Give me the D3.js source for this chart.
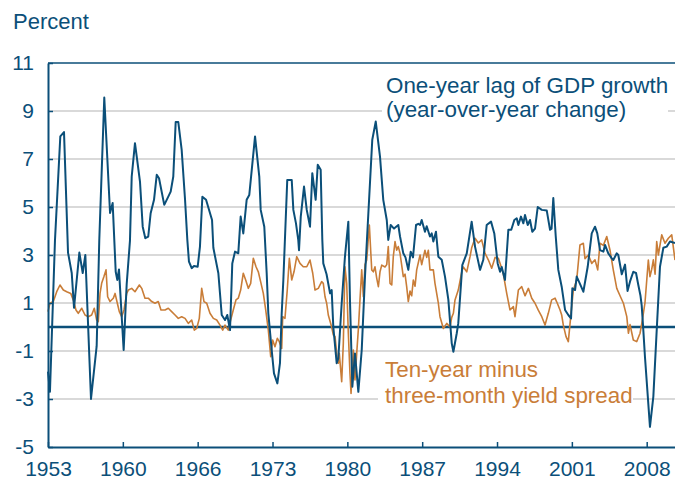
<!DOCTYPE html>
<html>
<head>
<meta charset="utf-8">
<script src="https://cdn.jsdelivr.net/npm/d3@7"></script>
<style>
  body { margin: 0; background: #fff; }
  svg { display: block; font-family: "Liberation Sans", Arial, sans-serif; }
</style>
</head>
<body>
<svg width="675" height="479"></svg>
<script>
// GDP growth, lagged one year: [decimal year, percent]
const gdpLag = [
  [1953.00, -1.86], [1953.18, -2.7], [1953.64, 3.6], [1954.13, 7.94], [1954.47, 8.12],
  [1954.84, 3.1], [1955.18, 2.25], [1955.39, 0.8], [1955.88, 3.1], [1956.19, 2.25],
  [1956.43, 3.0], [1956.95, -3.0], [1957.47, -0.8], [1957.71, 3.6], [1958.17, 9.56],
  [1958.70, 4.75], [1958.94, 5.17], [1959.22, 2.3], [1959.37, 1.96], [1959.52, 2.4],
  [1959.95, -0.96], [1960.23, 1.8], [1960.53, 3.6], [1960.69, 6.27], [1960.99, 7.66],
  [1961.45, 6.06], [1961.70, 4.18], [1961.94, 3.7], [1962.21, 3.77], [1962.43, 4.74],
  [1962.74, 5.3], [1962.99, 6.34], [1963.20, 6.2], [1963.68, 5.09], [1964.05, 5.43],
  [1964.27, 5.64], [1964.51, 6.27], [1964.73, 8.54], [1964.97, 8.54], [1965.28, 7.38],
  [1965.59, 5.3], [1965.80, 3.63], [1965.95, 2.72], [1966.20, 2.45], [1966.41, 2.54],
  [1966.75, 2.51], [1966.96, 3.35], [1967.18, 5.43], [1967.52, 5.3], [1968.07, 4.46],
  [1968.19, 3.3], [1968.65, 2.24], [1968.96, 0.5], [1969.26, 0.29], [1969.47, 0.5],
  [1969.72, -0.13], [1969.93, 2.65], [1970.18, 3.14], [1970.48, 3.07], [1970.70, 4.6],
  [1970.94, 3.9], [1971.25, 5.3], [1971.49, 5.5], [1972.02, 7.94], [1972.41, 6.27],
  [1972.54, 4.88], [1972.87, 4.18], [1973.09, 2.24], [1973.24, 0.57], [1973.55, -0.96],
  [1973.76, -1.93], [1974.07, -2.35], [1974.31, -1.51], [1974.47, 0.57], [1974.62, 1.96],
  [1974.98, 6.13], [1975.39, 6.13], [1975.54, 4.88], [1975.78, 4.32], [1975.99, 3.63],
  [1976.06, 3.2], [1976.22, 4.6], [1976.52, 5.85], [1976.77, 4.88], [1977.07, 4.18],
  [1977.28, 6.41], [1977.59, 5.3], [1977.78, 6.76], [1978.05, 6.55], [1978.20, 3.63],
  [1978.29, 2.65], [1978.59, 2.2], [1978.91, 1.4], [1979.06, 1.54], [1979.21, 0],
  [1979.52, -1.51], [1979.67, -1.3], [1979.98, 0.99], [1980.28, 2.93], [1980.59, 4.39],
  [1980.74, 1.13], [1980.96, -2.49], [1981.20, -1.1], [1981.51, -2.7], [1981.82, -0.96],
  [1982.12, 2.1], [1982.43, 4.74], [1982.79, 7.8], [1983.11, 8.56], [1983.50, 7.1],
  [1983.80, 5.3], [1984.12, 4.46], [1984.26, 3.63], [1984.48, 4.25], [1984.79, 4.1],
  [1985.18, 4.25], [1985.34, 3.77], [1985.64, 3.07], [1985.84, 2.9], [1986.10, 2.38],
  [1986.32, 3.14], [1986.53, 2.9], [1986.81, 4.25], [1987.02, 4.3], [1987.18, 4.25],
  [1987.33, 4.46], [1987.63, 3.97], [1987.79, 4.2], [1988.09, 3.77], [1988.25, 3.9],
  [1988.40, 3.56], [1988.64, 3.97], [1988.86, 2.93], [1989.17, 2.8], [1989.47, 2.1],
  [1989.78, 1.13], [1990.09, -0.68], [1990.24, -1.03], [1990.55, -0.26], [1990.69, 0.15],
  [1991.06, 2.58], [1991.47, 3.07], [1991.92, 4.39], [1992.23, 3.35], [1992.69, 2.38],
  [1992.99, 2.8], [1993.30, 4.25], [1993.70, 4.39], [1994.00, 3.9], [1994.31, 2.65],
  [1994.53, 2.3], [1994.68, 2.5], [1994.98, 1.96], [1995.29, 4.05], [1995.56, 4.05],
  [1995.84, 4.46], [1996.06, 4.53], [1996.21, 4.25], [1996.45, 4.6], [1996.67, 4.32],
  [1996.82, 4.67], [1997.07, 4.25], [1997.28, 4.46], [1997.49, 3.97], [1997.74, 4.1],
  [1997.99, 5.0], [1998.36, 4.88], [1998.82, 4.85], [1999.12, 4.05], [1999.26, 4.1],
  [1999.42, 5.37], [1999.64, 3.8], [1999.88, 2.38], [2000.19, 1.68], [2000.50, 0.71],
  [2000.80, 0.5], [2001.05, 0.36], [2001.17, 1.61], [2001.42, 1.54], [2001.57, 2.1],
  [2001.87, 1.8], [2002.18, 1.47], [2002.58, 2.51], [2002.95, 3.9], [2003.25, 4.18],
  [2003.46, 3.9], [2003.71, 3.2], [2004.02, 3.14], [2004.17, 3.42], [2004.47, 3.07],
  [2004.79, 2.86], [2004.93, 2.79], [2005.25, 3.07], [2005.39, 3.0], [2005.71, 2.2],
  [2006.01, 2.6], [2006.24, 1.5], [2006.47, 1.9], [2006.77, 2.3], [2007.02, 2.25],
  [2007.23, 1.75], [2007.43, 1.3], [2007.54, 0.9], [2007.69, -0.13], [2007.84, -1.24],
  [2008.30, -4.16], [2008.61, -2.9], [2008.92, -0.13], [2009.22, 2.51], [2009.53, 3.3],
  [2009.84, 3.35], [2010.14, 3.56], [2010.60, 3.5]
];

// ten-year minus three-month yield spread: [decimal year, percent]
const yieldSpread = [
  [1953.00, 0.64], [1953.18, 0.99], [1953.49, 1.06], [1953.80, 1.47], [1954.10, 1.75],
  [1954.41, 1.54], [1954.72, 1.47], [1955.09, 1.4], [1955.32, 1.13], [1955.57, 0.71],
  [1955.78, 0.57], [1956.10, 0.78], [1956.40, 0.5], [1956.70, 0.43], [1957.01, 0.5],
  [1957.25, 0.78], [1957.47, 0.29], [1957.62, 0.22], [1957.78, 1.4], [1957.93, 1.82],
  [1958.14, 2.1], [1958.33, 2.38], [1958.48, 1.26], [1958.70, 1.06], [1959.00, 1.2],
  [1959.16, 1.4], [1959.37, 0.99], [1959.55, 0.64], [1959.77, 0.43], [1959.98, 0.71],
  [1960.23, 1.4], [1960.38, 1.54], [1960.69, 1.61], [1960.99, 1.47], [1961.39, 1.75],
  [1961.61, 1.61], [1961.91, 1.2], [1962.21, 1.2], [1962.53, 1.06], [1962.83, 0.99],
  [1963.13, 1.06], [1963.38, 0.71], [1963.75, 0.71], [1964.05, 0.78], [1964.36, 0.64],
  [1964.67, 0.5], [1964.97, 0.36], [1965.28, 0.43], [1965.59, 0.36], [1965.89, 0.15],
  [1966.20, 0.29], [1966.44, -0.13], [1966.66, -0.06], [1966.90, 0.36], [1967.12, 1.61],
  [1967.33, 1.06], [1967.58, 0.99], [1967.88, 0.57], [1968.19, 0.36], [1968.50, 0.29],
  [1968.80, 0.08], [1969.05, -0.13], [1969.26, 0.08], [1969.56, -0.13], [1969.78, 0.29],
  [1970.02, 0.71], [1970.27, 1.13], [1970.48, 1.2], [1970.70, 1.54], [1970.94, 2.24],
  [1971.16, 1.96], [1971.40, 1.61], [1971.62, 1.82], [1971.86, 2.86], [1972.11, 2.51],
  [1972.32, 2.3], [1972.57, 1.82], [1972.78, 1.4], [1973.00, 0.71], [1973.24, -0.13],
  [1973.46, -1.24], [1973.64, -0.54], [1973.85, -0.82], [1974.07, -0.47], [1974.25, -0.61],
  [1974.47, -0.89], [1974.56, 0.43], [1974.77, 0.36], [1974.98, 1.54], [1975.17, 2.86],
  [1975.39, 1.96], [1975.60, 2.3], [1975.85, 2.93], [1976.15, 2.65], [1976.45, 2.51],
  [1976.77, 2.51], [1977.07, 2.79], [1977.32, 2.24], [1977.53, 1.54], [1977.83, 1.61],
  [1978.14, 1.89], [1978.29, 1.82], [1978.45, 1.26], [1978.60, 0.99], [1978.75, 0.5],
  [1979.06, 0], [1979.21, -0.33], [1979.37, -0.4], [1979.58, -1.38], [1979.67, -1.51],
  [1979.76, -1.1], [1979.98, -2.28], [1980.13, -0.68], [1980.28, 2.51], [1980.44, 1.82],
  [1980.59, -0.26], [1980.74, -1.93], [1980.84, -2.77], [1981.05, -0.96], [1981.20, -2.21],
  [1981.36, -1.1], [1981.51, -0.1], [1981.66, 1.13], [1981.82, 2.38], [1981.97, 1.26],
  [1982.12, 2.6], [1982.28, 2.79], [1982.52, 4.25], [1982.74, 2.38], [1982.89, 2.3],
  [1983.04, 2.51], [1983.20, 2.03], [1983.35, 1.68], [1983.50, 2.3], [1983.66, 2.58],
  [1983.96, 2.5], [1984.12, 2.6], [1984.26, 3.35], [1984.42, 1.82], [1984.58, 1.75],
  [1984.72, 2.93], [1984.88, 3.56], [1985.03, 3.2], [1985.18, 3.35], [1985.34, 3.07],
  [1985.64, 2.1], [1985.80, 2.2], [1985.95, 1.68], [1986.10, 1.06], [1986.26, 1.5],
  [1986.41, 1.3], [1986.56, 1.96], [1986.72, 1.7], [1986.87, 2.38], [1987.18, 3.0],
  [1987.33, 2.6], [1987.63, 3.2], [1987.79, 2.9], [1987.94, 3.2], [1988.09, 2.38],
  [1988.40, 2.38], [1988.55, 1.82], [1988.86, 0.99], [1989.01, 0.43], [1989.32, -0.06],
  [1989.63, 0.15], [1989.93, 0], [1990.09, 0.4], [1990.24, 0.57], [1990.39, 1.13],
  [1990.69, 1.54], [1991.01, 2.3], [1991.15, 2.5], [1991.47, 2.3], [1991.77, 2.93],
  [1991.92, 3.3], [1992.23, 3.7], [1992.53, 3.5], [1992.84, 3.63], [1993.15, 3.07],
  [1993.45, 2.8], [1993.76, 2.45], [1994.07, 2.9], [1994.37, 2.86], [1994.68, 2.45],
  [1994.83, 2.2], [1995.14, 1.4], [1995.44, 0.71], [1995.75, 0.85], [1995.90, 0.43],
  [1996.21, 1.54], [1996.52, 1.68], [1996.82, 1.3], [1997.13, 1.61], [1997.44, 1.2],
  [1997.74, 0.99], [1998.04, 0.7], [1998.36, 0.43], [1998.66, 0.08], [1998.96, 0.57],
  [1999.27, 1.13], [1999.58, 1.2], [1999.73, 1.05], [2000.04, 0.71], [2000.19, 0.5],
  [2000.34, 0.08], [2000.59, -0.4], [2000.80, -0.61], [2000.96, 0.15], [2001.26, 1.54],
  [2001.57, 1.96], [2001.87, 3.42], [2002.18, 3.49], [2002.33, 2.85], [2002.64, 3.0],
  [2002.95, 2.65], [2003.25, 2.8], [2003.50, 2.38], [2003.71, 3.49], [2004.02, 3.4],
  [2004.33, 3.77], [2004.63, 3.2], [2004.93, 2.38], [2005.25, 1.61], [2005.55, 1.3],
  [2005.86, 0.99], [2006.17, 0.43], [2006.32, -0.26], [2006.47, 0.1], [2006.77, -0.54],
  [2007.08, -0.61], [2007.39, -0.26], [2007.60, 0.29], [2007.84, 1.0], [2008.15, 2.79],
  [2008.30, 2.1], [2008.46, 2.4], [2008.61, 2.8], [2008.77, 2.2], [2008.92, 3.56],
  [2009.07, 3.0], [2009.38, 3.84], [2009.68, 3.49], [2009.99, 3.7], [2010.30, 3.84],
  [2010.60, 2.79]
];

const yTicks = [11, 9, 7, 5, 3, 1, -1, -3, -5];
const gridValues = [9, 7, 5, 3, 1, -1, -3];
const xLabels = ['1953', '1960', '1966', '1973', '1980', '1987', '1994', '2001', '2008'];

const blue = '#0b4f79';
const orange = '#c97d38';

const [width, height] = [675, 479];
const margin = {top: 63, right: 0, bottom: 32, left: 48};

const svg = d3.select('svg');

const x = d3.scaleLinear()
  .domain([1953, 2010.6])
  .range([margin.left, width - margin.right]);

const y = d3.scaleLinear()
  .domain([-5, 11])
  .range([height - margin.bottom, margin.top]);

// x ticks sit evenly spaced between the first and last label
const xTickVals = xLabels.map((d, i) => 1953 + i * (2008 - 1953) / (xLabels.length - 1));

// Grid lines
svg.append('g')
  .selectAll('line')
  .data(gridValues)
  .join('line')
  .attr('x1', margin.left)
  .attr('x2', width)
  .attr('y1', d => y(d))
  .attr('y2', d => y(d))
  .attr('stroke', '#cccccc')
  .attr('stroke-width', 1.5);

// white boxes behind the labels
svg.append('rect')
  .attr('x', 382).attr('y', 72)
  .attr('width', 286).attr('height', 54)
  .attr('fill', '#fff');

svg.append('rect')
  .attr('x', 378).attr('y', 357)
  .attr('width', 255).attr('height', 54)
  .attr('fill', '#fff');

// zero line
svg.append('line')
  .attr('x1', margin.left)
  .attr('x2', width)
  .attr('y1', y(0))
  .attr('y2', y(0))
  .attr('stroke', blue)
  .attr('stroke-width', 2.5);

const line = d3.line()
  .x(d => x(d[0]))
  .y(d => y(d[1]));

svg.append('path')
  .datum(yieldSpread)
  .attr('d', line)
  .attr('fill', 'none')
  .attr('stroke', orange)
  .attr('stroke-width', 1.6)
  .attr('stroke-linejoin', 'round');

svg.append('path')
  .datum(gdpLag)
  .attr('d', line)
  .attr('fill', 'none')
  .attr('stroke', blue)
  .attr('stroke-width', 2)
  .attr('stroke-linejoin', 'round');

// top border
svg.append('line')
  .attr('x1', margin.left)
  .attr('x2', width)
  .attr('y1', margin.top)
  .attr('y2', margin.top)
  .attr('stroke', blue)
  .attr('stroke-width', 1.5);

// Axes
const yAxis = d3.axisLeft(y)
  .tickValues(yTicks)
  .tickSize(-5)
  .tickSizeOuter(0)
  .tickPadding(14)
  .tickFormat(d => d);

const xAxis = d3.axisBottom(x)
  .tickValues(xTickVals)
  .tickSize(-5)
  .tickSizeOuter(0)
  .tickPadding(14)
  .tickFormat((d, i) => xLabels[i]);

const gy = svg.append('g')
  .attr('transform', `translate(${margin.left},0)`)
  .call(yAxis);

const gx = svg.append('g')
  .attr('transform', `translate(0,${height - margin.bottom})`)
  .call(xAxis);

[gx, gy].forEach(g => {
  g.select('.domain').attr('stroke', blue).attr('stroke-width', 2);
  g.selectAll('.tick line').attr('stroke', blue).attr('stroke-width', 1.5);
  g.selectAll('.tick text')
    .attr('fill', blue)
    .style('font-size', '21px')
    .style('font-family', '"Liberation Sans", Arial, sans-serif');
});

// Labels
svg.append('text')
  .attr('x', 13)
  .attr('y', 29)
  .attr('fill', blue)
  .style('font-size', '22px')
  .text('Percent');

const gdpLabel = svg.append('text')
  .attr('fill', blue)
  .style('font-size', '22.4px');
gdpLabel.append('tspan').attr('x', 386).attr('y', 93).text('One-year lag of GDP growth');
gdpLabel.append('tspan').attr('x', 386).attr('y', 117).text('(year-over-year change)');

const spreadLabel = svg.append('text')
  .attr('fill', orange)
  .style('font-size', '22.4px');
spreadLabel.append('tspan').attr('x', 385).attr('y', 377).text('Ten-year minus');
spreadLabel.append('tspan').attr('x', 385).attr('y', 403).text('three-month yield spread');
</script>
</body>
</html>
